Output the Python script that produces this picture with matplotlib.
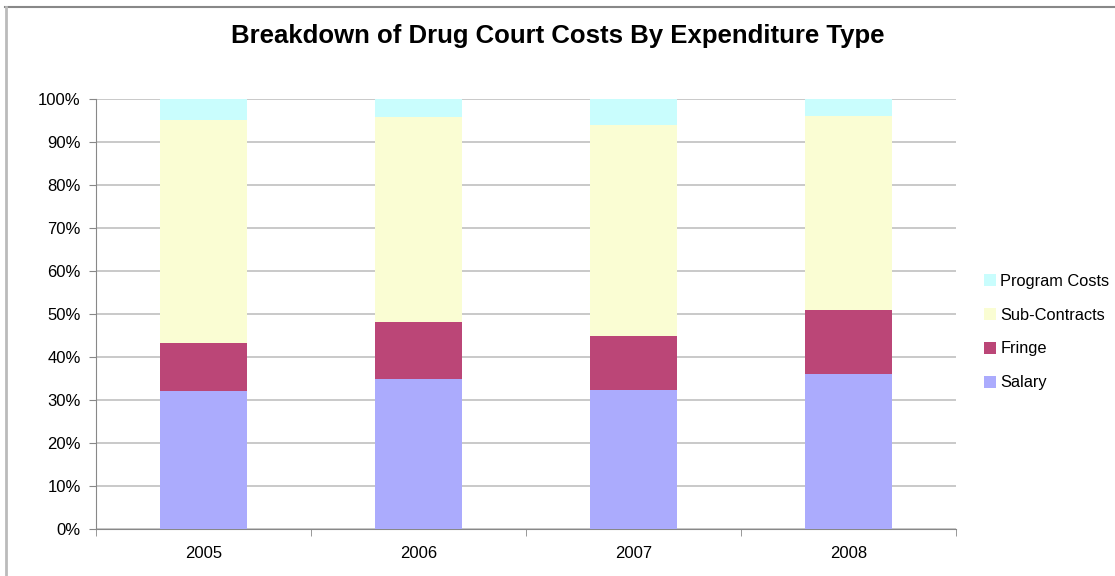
import numpy as np
import matplotlib
matplotlib.use('Agg')
from matplotlib import pyplot as plt
from matplotlib.lines import Line2D
from matplotlib.patches import Patch

plt.rcParams['font.family'] = ['Liberation Sans', 'DejaVu Sans']

# data (percent of total cost per year)
years = ['2005', '2006', '2007', '2008']
salary = [32.1, 34.9, 32.4, 36.0]
fringe = [11.2, 13.2, 12.6, 15.0]
sub_contracts = [51.8, 47.7, 49.0, 45.0]
program_costs = [4.9, 4.2, 6.0, 4.0]

series = ['Salary', 'Fringe', 'Sub-Contracts', 'Program Costs']
colors = ['#ababfd', '#bb4677', '#fafdd3', '#c9fdfd']

fig = plt.figure(figsize=(11.15, 5.76), dpi=100)
ax = fig.add_axes([96/1115, 1 - 529/576, 860/1115, 430/576])

x = np.arange(len(years))
bottom = np.zeros(len(years))
for name, vals, c in zip(series, [salary, fringe, sub_contracts, program_costs], colors):
    vals = np.array(vals)
    ax.bar(x, vals, width=0.405, bottom=bottom, color=c, label=name, zorder=3)
    bottom += vals

ax.set_xlim(-0.5, 3.5)
ax.set_ylim(0, 100)
ax.set_yticks(np.arange(0, 101, 10))
ax.set_yticklabels([f'{v}%' for v in range(0, 101, 10)], fontsize=12)
ax.set_xticks(x)
ax.set_xticklabels(years, fontsize=12)
ax.set_xticks(np.arange(-0.5, 4, 1), minor=True)
ax.tick_params(axis='x', which='major', length=0, pad=12)
ax.tick_params(axis='x', which='minor', length=5, color='#888888', direction='out')
ax.tick_params(axis='y', length=5, color='#888888', pad=6)

ax.grid(axis='y', color='#c0c0c0', linewidth=1.2, zorder=0)
for s in ['top', 'right']:
    ax.spines[s].set_visible(False)
ax.spines['left'].set_color('#888888')
ax.spines['bottom'].set_color('#888888')

fig.text(0.5, 1 - 36/576, 'Breakdown of Drug Court Costs By Expenditure Type',
         ha='center', va='center', fontsize=18.5, fontweight='bold')

handles = [Patch(facecolor=c) for c in colors[::-1]]
fig.legend(handles, series[::-1], loc='center left', bbox_to_anchor=(969/1115, 1 - 332/576),
           frameon=False, fontsize=11.8, handlelength=0.75, handleheight=0.75,
           handletextpad=0.25, labelspacing=1.15)

# frame lines of the original screenshot
fig.add_artist(Line2D([5/1115, 1], [1 - 7/576, 1 - 7/576], color='#888888', linewidth=1.5))
fig.add_artist(Line2D([5.5/1115, 5.5/1115], [0, 1 - 7/576], color='#bbbbbb', linewidth=2))

fig.savefig('out.png', dpi=100)
